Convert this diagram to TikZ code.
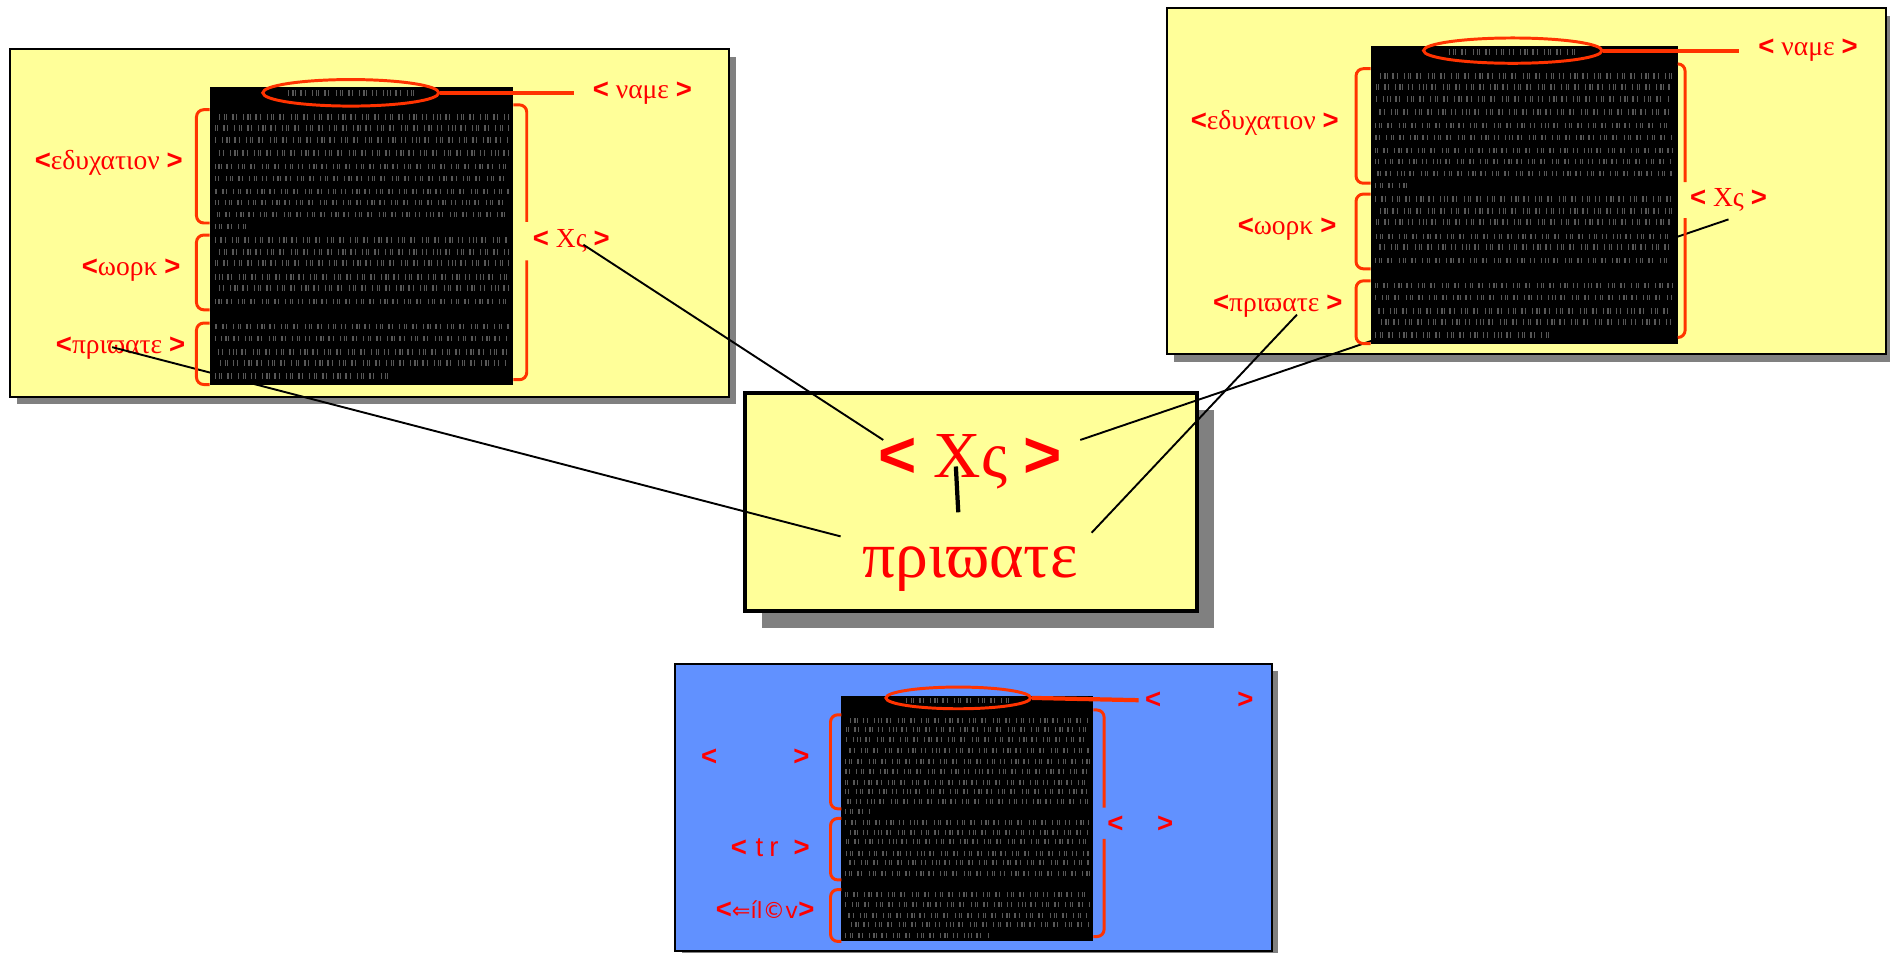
\documentclass[tikz,border=0pt]{standalone}
\usepackage{fontspec}
\setmainfont{Liberation Serif}
\newfontfamily\tagsans{Liberation Sans}
\newfontfamily\symsans{DejaVu Sans}
\usetikzlibrary{shapes.geometric}
\usetikzlibrary{calc}

\definecolor{cvyellow}{RGB}{255,255,153}
\definecolor{cvblue}{RGB}{97,145,255}
\definecolor{tagred}{RGB}{255,0,0}
\definecolor{ringred}{RGB}{255,51,0}

\newcommand{\ltag}{{\tagsans\bfseries<}}
\newcommand{\rtag}{{\tagsans\bfseries>}}

\tikzset{
	sheet/.style={draw=black, line width=0.9pt},
	sheetshadow/.style={fill=black!50},
	page/.style={fill=black},
	noise/.style={white!34!black, line width=2.6pt,
		dash pattern=on 0.3pt off 1.7pt on 0.6pt off 0.5pt on 0.3pt off 2.4pt on 0.9pt off 1.1pt on 0.4pt off 3pt},
	tag/.style={text=tagred, inner sep=0pt, font=\fontsize{13}{15}\selectfont},
	bigtag/.style={text=tagred, inner sep=0pt, font=\fontsize{31}{36}\selectfont},
	brace/.style={draw=ringred, line width=1.4pt, rounded corners=1.2mm},
	ring/.style={ellipse, draw=ringred, line width=1.4pt, inner sep=0pt},
	nameline/.style={draw=ringred, line width=2pt},
	link/.style={draw=black, line width=0.9pt}
}

\begin{document}
\begin{tikzpicture}[x=0.2mm, y=-0.2mm]
		\useasboundingbox (0,0) rectangle (1568,790);

		% sheets
		\fill[sheetshadow] (14,47) rectangle (611,335);
		\filldraw[sheet, fill=cvyellow] (8,41) rectangle (605,329);
		\fill[sheetshadow] (974,13) rectangle (1571,300);
		\filldraw[sheet, fill=cvyellow] (968,7) rectangle (1565,294);
		\fill[sheetshadow] (632,340) rectangle (1007,521);
		\filldraw[sheet, fill=cvyellow, line width=2pt] (618,326) rectangle (993,507);
		\fill[sheetshadow] (566,557) rectangle (1060,795);
		\filldraw[sheet, fill=cvblue] (560,551) rectangle (1055,789);

		% left sheet labels
		\node[tag, anchor=east] (eduL) at (152,135) {\ltag{}εδυχατιον \rtag};
		\node[tag, anchor=east] (workL) at (150,224) {\ltag{}ωορκ \rtag};
		\node[tag, anchor=east] (privL) at (154,289) {\ltag{}πριϖατε \rtag};
		\node[tag] (cvL) at (474,200) {\ltag\ Χς \rtag};
		\node[tag] (nameL) at (533,77) {\ltag\ ναμε \rtag};

		% right sheet labels
		\node[tag, anchor=east] (eduR) at (1111,102) {\ltag{}εδυχατιον \rtag};
		\node[tag, anchor=east] (workR) at (1109,190) {\ltag{}ωορκ \rtag};
		\node[tag, anchor=east] (privR) at (1114,254) {\ltag{}πριϖατε \rtag};
		\node[tag] (cvR) at (1434,166) {\ltag\ Χς \rtag};
		\node[tag] (nameR) at (1500,42) {\ltag\ ναμε \rtag};

		% blue sheet labels
		\node[tag, anchor=east] (eduB) at (672,628) {\ltag\hspace{36pt}\rtag};
		\node[tag, anchor=east] (workB) at (672,703) {\ltag\hspace{4pt}{\tagsans t}\hspace{3pt}{\tagsans r}\hspace{7pt}\rtag};
		\node[tag, anchor=east] (privB) at (676,755) {\ltag{\symsans\fontsize{10.5}{12}\selectfont ⇐íl©v}\rtag};
		\node[tag] (cvB) at (946,684) {\ltag\hspace{16pt}\rtag};
		\node[tag] (nameB) at (995,581) {\ltag\hspace{36pt}\rtag};

		% middle sheet
		\node[bigtag, anchor=base] (cvM) at (805,396) {\ltag\ Χς \rtag};
		\node[bigtag, anchor=base] (privM) at (805,479) {πριϖατε};
		\draw[line width=2pt] (793,387) -- (795,425);

		% links
		\draw[link] ($(cvL.center)+(10,3)$) -- ($(cvM.base west)+(4,-31)$);
		\draw[link] ($(privL.center)+(-7,-1)$) -- ($(privM.base west)+(-18,-34)$);
		\draw[link] ($(cvR.center)+(0,16)$) -- ($(cvM.base east)+(15,-31)$);
		\draw[link] ($(privR.center)+(16,7)$) -- ($(privM.base east)+(11,-37)$);

		% cv pages
		\fill[page] (174,72) rectangle (426,319);
		\begin{scope}[shift={(174,72)}]
			\draw[noise] (65,5) -- (170,5);
			\foreach \r in {25,34,44,55,66,76,87,96,106,127,137,146,158,167,178,199,209,220,229}
				\draw[noise, dash phase=1.7*\r pt] (4,\r) -- (248,\r);
			\draw[noise] (4,116) -- (30,116);
			\draw[noise] (4,240) -- (150,240);
		\end{scope}
		\fill[page] (1137,38) rectangle (1392,285);
		\begin{scope}[shift={(1137,38)}]
			\draw[noise] (65,5) -- (170,5);
			\foreach \r in {25,34,44,55,66,76,87,96,106,127,137,146,158,167,178,199,209,220,229}
				\draw[noise, dash phase=1.7*\r pt] (4,\r) -- (250,\r);
			\draw[noise] (4,116) -- (30,116);
			\draw[noise] (4,240) -- (150,240);
		\end{scope}
		\fill[page] (698,577) rectangle (907,781);
		\begin{scope}[shift={(698,577)}, scale=0.83]
			\draw[noise] (65,5) -- (170,5);
			\foreach \r in {25,34,44,55,66,76,87,96,106,127,137,146,158,167,178,199,209,220,229}
				\draw[noise, dash phase=1.7*\r pt] (4,\r) -- (248,\r);
			\draw[noise] (4,116) -- (30,116);
			\draw[noise] (4,240) -- (150,240);
		\end{scope}

		% name rings
		\node[ring, minimum width=29.2mm, minimum height=4.4mm] (ringL) at (291,77) {};
		\draw[nameline, shorten >=3mm] (ringL.east) -- (nameL.west);
		\node[ring, minimum width=29.6mm, minimum height=4.2mm] (ringR) at (1255,42) {};
		\draw[nameline, shorten >=3.2mm] (ringR.east) -- (nameR.west);
		\node[ring, minimum width=24mm, minimum height=3.6mm] (ringB) at (795,579) {};
		\draw[nameline, shorten >=1mm] (ringB.east) -- (nameB.west);

		% braces, left sheet
		\draw[brace] (174,91) -- (163,91) -- (163,185) -- (174,185);
		\draw[brace] (174,195) -- (163,195) -- (163,257) -- (174,257);
		\draw[brace] (174,268) -- (163,268) -- (163,319) -- (174,319);
		\draw[brace] (426,87) -- (437,87) -- (437,184);
		\draw[brace] (437,216) -- (437,315) -- (426,315);

		% braces, right sheet
		\draw[brace] (1137,57) -- (1125,57) -- (1125,152) -- (1137,152);
		\draw[brace] (1137,161) -- (1125,161) -- (1125,223) -- (1137,223);
		\draw[brace] (1137,233) -- (1125,233) -- (1125,285) -- (1137,285);
		\draw[brace] (1392,53) -- (1398,53) -- (1398,151);
		\draw[brace] (1398,181) -- (1398,280) -- (1392,280);

		% braces, blue sheet
		\draw[brace] (698,593) -- (689,593) -- (689,671) -- (698,671);
		\draw[brace] (698,679) -- (689,679) -- (689,730) -- (698,730);
		\draw[brace] (698,738) -- (689,738) -- (689,781) -- (698,781);
		\draw[brace] (907,589) -- (916,589) -- (916,670);
		\draw[brace] (916,696) -- (916,777) -- (907,777);
	\end{tikzpicture}
\end{document}
